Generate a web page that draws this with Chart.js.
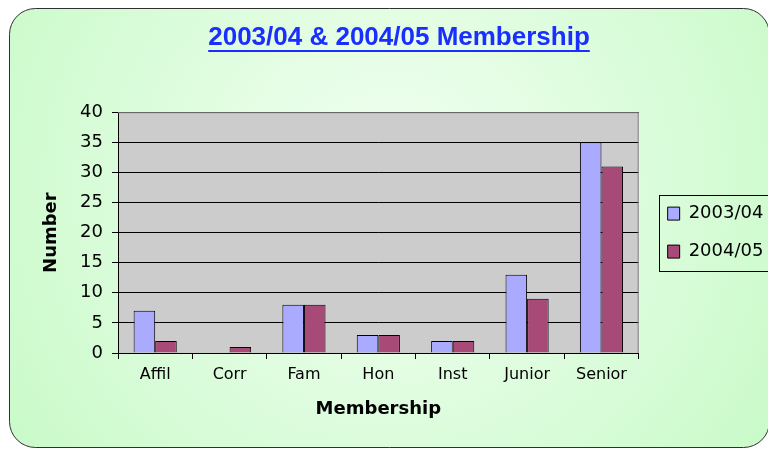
<!DOCTYPE html>
<html lang="en">
<head>
    <meta charset="UTF-8">
    <script src="https://cdn.jsdelivr.net/npm/chart.js"></script>
    <title>Membership</title>
    <style>
        body { margin: 0; background: #ffffff; }
        .chart-box { width: 768px; height: 450px; }
    </style>
</head>
<body>
    <div class="chart-box">
        <canvas id="memberChart" width="768" height="450"></canvas>
    </div>
    <script>
        const categories = ['Affil', 'Corr', 'Fam', 'Hon', 'Inst', 'Junior', 'Senior'];
        const members0304 = [7, 0, 8, 3, 2, 13, 35];
        const members0405 = [2, 1, 8, 3, 2, 9, 31];
        const yTicks = [0, 5, 10, 15, 20, 25, 30, 35, 40];

        const labelFont = 'DejaVu Sans';

        // green panel, grey plot area, plot frame, legend frame, title underline
        const backdrop = {
            id: 'backdrop',
            beforeDraw(chart) {
                const ctx = chart.ctx;
                const a = chart.chartArea;
                ctx.save();
                const g = ctx.createRadialGradient(390, 190, 10, 390, 190, 470);
                g.addColorStop(0, '#f2fff2');
                g.addColorStop(1, '#c8fac8');
                ctx.beginPath();
                ctx.roundRect(9.5, 8.5, 760, 439, 26);
                ctx.fillStyle = g;
                ctx.fill();
                ctx.lineWidth = 1;
                ctx.strokeStyle = '#303030';
                ctx.stroke();
                ctx.fillStyle = '#cccccc';
                ctx.fillRect(a.left, a.top, a.right - a.left, a.bottom - a.top);
                ctx.restore();
            },
            afterDraw(chart) {
                const ctx = chart.ctx;
                const a = chart.chartArea;
                ctx.save();
                ctx.lineWidth = 1;
                ctx.strokeStyle = '#808080';
                ctx.beginPath();
                ctx.moveTo(a.left, a.top + 0.5);
                ctx.lineTo(a.right - 0.5, a.top + 0.5);
                ctx.lineTo(a.right - 0.5, a.bottom);
                ctx.stroke();

                const lg = chart.legend;
                const hb = lg.legendHitBoxes;
                const top = Math.round(hb[0].top) - 9.5;
                const bottom = Math.round(hb[hb.length - 1].top + hb[hb.length - 1].height) + 10.5;
                ctx.strokeStyle = '#000000';
                ctx.strokeRect(Math.round(lg.left) + 11.5, top, 130, bottom - top);

                const t = chart.titleBlock;
                ctx.font = 'bold 26px "Liberation Sans", Arial';
                const w = ctx.measureText(chart.options.plugins.title.text).width;
                const cx = (t.left + t.right) / 2;
                ctx.fillStyle = '#1a2eff';
                ctx.fillRect(cx - w / 2, 50, w, 2);
                ctx.restore();
            }
        };

        const ctx = document.getElementById('memberChart').getContext('2d');
        const memberChart = new Chart(ctx, {
            type: 'bar',
            data: {
                labels: categories,
                datasets: [{
                    label: '2003/04',
                    data: members0304,
                    backgroundColor: '#aaaaff',
                    borderColor: '#000000',
                    borderWidth: 1
                }, {
                    label: '2004/05',
                    data: members0405,
                    backgroundColor: '#a84a77',
                    borderColor: '#000000',
                    borderWidth: 1
                }]
            },
            options: {
                responsive: false,
                animation: false,
                layout: { padding: { left: 26, right: -4, top: 22, bottom: 28 } },
                datasets: { bar: { categoryPercentage: 0.58, barPercentage: 1.0 } },
                plugins: {
                    title: {
                        display: true,
                        text: '2003/04 & 2004/05 Membership',
                        color: '#1a2eff',
                        font: { family: '"Liberation Sans", Arial', size: 26, weight: 'bold' },
                        padding: { top: 0, bottom: 59 }
                    },
                    legend: {
                        position: 'right',
                        fullSize: false,
                        labels: {
                            color: '#000000',
                            font: { family: labelFont, size: 18 },
                            boxWidth: 12,
                            boxHeight: 13,
                            padding: 20
                        }
                    },
                    tooltip: { enabled: false }
                },
                scales: {
                    x: {
                        afterFit(axis) { axis.height = 69; },
                        grid: {
                            offset: true,
                            drawOnChartArea: false,
                            color: '#000000',
                            tickLength: 6
                        },
                        border: { color: '#000000' },
                        ticks: {
                            color: '#000000',
                            font: { family: labelFont, size: 16 },
                            padding: 6
                        },
                        title: {
                            display: true,
                            text: 'Membership',
                            color: '#000000',
                            font: { family: labelFont, size: 18, weight: 'bold' },
                            padding: { top: 0, bottom: 2 }
                        }
                    },
                    y: {
                        min: 0,
                        max: 40,
                        afterFit(axis) { axis.width = 92; },
                        afterBuildTicks(axis) {
                            axis.ticks = yTicks.map(v => ({ value: v }));
                        },
                        grid: { color: '#000000', tickLength: 6 },
                        border: { color: '#000000' },
                        ticks: {
                            color: '#000000',
                            font: { family: labelFont, size: 18 },
                            padding: 9
                        },
                        title: {
                            display: true,
                            text: 'Number',
                            color: '#000000',
                            font: { family: labelFont, size: 18, weight: 'bold' },
                            padding: { top: 15, bottom: 0 }
                        }
                    },
                    // empty axis, only keeps the gap between plot and legend
                    gap: {
                        type: 'linear',
                        position: 'right',
                        afterFit(axis) { axis.width = 9; },
                        grid: { display: false },
                        border: { display: false },
                        ticks: { display: false }
                    }
                }
            },
            plugins: [backdrop]
        });
    </script>
</body>
</html>
